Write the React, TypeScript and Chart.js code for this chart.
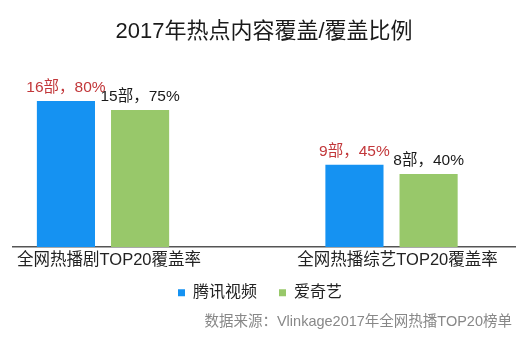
import React, { useEffect, useRef } from "react";
import { Chart, registerables } from "chart.js";

Chart.register(...registerables);

const titleText = "2017年热点内容覆盖/覆盖比例";
const sourceText = "数据来源：Vlinkage2017年全网热播TOP20榜单";
const categories = ["全网热播剧TOP20覆盖率", "全网热播综艺TOP20覆盖率"];
const seriesNames = ["腾讯视频", "爱奇艺"];
const tencentValues = [80, 45];
const iqiyiValues = [75, 40];
const tencentCounts = [16, 9];
const iqiyiCounts = [15, 8];

const FONT = "'Liberation Sans', 'Noto Sans CJK SC', sans-serif";
const BLUE = "#1592F2";
const GREEN = "#98C86A";
const labelColors = ["#C2373A", "#1a1a1a"];
const counts = [tencentCounts, iqiyiCounts];

const barLabels = {
  id: "barLabels",
  afterDatasetsDraw(chart: any) {
    const ctx = chart.ctx;
    chart.data.datasets.forEach((ds: any, di: number) => {
      const meta = chart.getDatasetMeta(di);
      meta.data.forEach((bar: any, i: number) => {
        const v = ds.data[i].y;
        const text = `${counts[di][i]}部，${v}%`;
        ctx.save();
        ctx.font = `15.5px ${FONT}`;
        ctx.fillStyle = labelColors[di];
        ctx.textAlign = "center";
        ctx.textBaseline = "middle";
        ctx.fillText(text, bar.x, bar.y - 13);
        ctx.restore();
      });
    });
  },
};

// pull the legend and the source note up, closer to the axis labels
const tightenBottom = {
  id: "tightenBottom",
  afterLayout(chart: any) {
    const lg = chart.legend;
    if (lg) {
      lg.top -= 12;
      lg.bottom -= 12;
      lg.left -= 4;
      lg.right -= 4;
    }
    const st = chart.boxes.find((b: any) => b.options && b.options.text === sourceText);
    if (st) {
      st.top -= 9.5;
      st.bottom -= 9.5;
      st.left -= 3;
      st.right -= 3;
    }
  },
};

export default function App() {
  const ref = useRef<HTMLCanvasElement | null>(null);
  useEffect(() => {
    document.body.style.margin = "0";
    const canvas = ref.current;
    if (!canvas) return;
    const chart = new Chart(canvas, {
      type: "bar",
      data: {
        datasets: [
          {
            label: seriesNames[0],
            data: categories.map((_, i) => ({ x: i, y: tencentValues[i] })),
            backgroundColor: BLUE,
            borderWidth: 0,
          },
          {
            label: seriesNames[1],
            data: categories.map((_, i) => ({ x: i, y: iqiyiValues[i] })),
            backgroundColor: GREEN,
            borderWidth: 0,
          },
        ] as any,
      },
      options: {
        animation: false,
        responsive: false,
        devicePixelRatio: 1,
        datasets: {
          bar: { barPercentage: 0.784, categoryPercentage: 0.514 },
        } as any,
        layout: { padding: { left: 13, right: 15, top: 0, bottom: 12.8 } },
        scales: {
          x: {
            type: "linear",
            min: -0.312,
            max: 1.428,
            offset: false,
            grid: { display: false, drawTicks: false, offset: false },
            border: { display: true, color: "#555", width: 1.5 },
            afterBuildTicks: (scale: any) => {
              scale.ticks = categories.map((_, i) => ({ value: i }));
            },
            ticks: {
              callback: (v: any) => categories[v as number],
              font: { size: 16.5, family: FONT },
              color: "#222",
              padding: 4,
              labelOffset: 6,
              maxRotation: 0,
              autoSkip: false,
            },
          } as any,
          y: { display: false, min: 0, max: 100 },
        },
        plugins: {
          title: {
            display: true,
            text: titleText,
            font: { size: 22, family: FONT, weight: "normal" },
            color: "#1a1a1a",
            padding: { top: 19, bottom: 19 },
          },
          subtitle: {
            display: true,
            text: sourceText,
            position: "bottom",
            align: "end",
            font: { size: 14.5, family: FONT, weight: "normal" },
            color: "#888",
            padding: { top: 0, bottom: 0 },
          },
          legend: {
            position: "bottom",
            labels: {
              boxWidth: 7,
              boxHeight: 7,
              padding: 22,
              font: { size: 16, family: FONT },
              color: "#222",
            },
          },
          tooltip: { enabled: false },
        },
      },
      plugins: [barLabels, tightenBottom],
    });
    return () => chart.destroy();
  }, []);
  return (
    <div style={{ width: 530, height: 353, background: "#fff" }}>
      <canvas ref={ref} width={530} height={353} />
    </div>
  );
}
